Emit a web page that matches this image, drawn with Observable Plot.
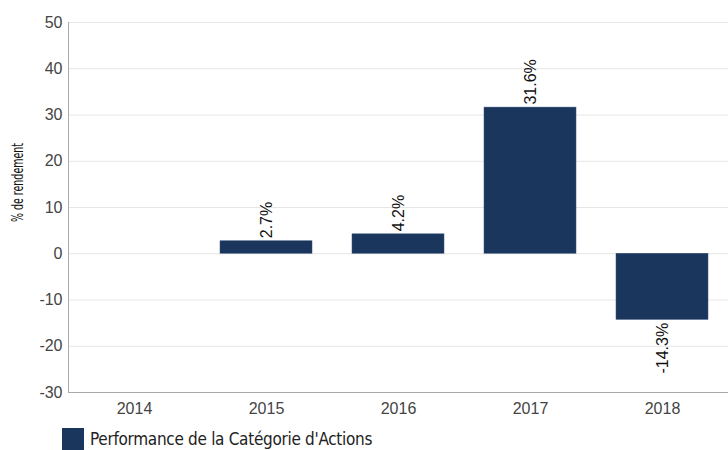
<!DOCTYPE html>
<html>
<head>
<meta charset="utf-8">
<script src="https://cdn.jsdelivr.net/npm/d3@7"></script>
<script src="https://cdn.jsdelivr.net/npm/@observablehq/plot@0.6"></script>
<style>
  body { margin: 0; background: #fff; font-family: "Liberation Sans", Arial, sans-serif; }
  #legend { display: flex; align-items: center; margin: 4px 0 0 62px; font-family: "DejaVu Sans Condensed", "DejaVu Sans", sans-serif; font-stretch: condensed; font-size: 17px; letter-spacing: -0.3px; color: #222; }
  #legend .sw { width: 22px; height: 22px; background: #1b365d; margin-right: 6px; }
</style>
</head>
<body>
<div id="chart"></div>
<div id="legend"><span class="sw"></span><span id="legend-label"></span></div>
<script>
const years = ["2014", "2015", "2016", "2017", "2018"];
const values = [null, 2.7, 4.2, 31.6, -14.3];
const yTicks = [-30, -20, -10, 0, 10, 20, 30, 40, 50];
const seriesName = "Performance de la Catégorie d'Actions";
const yLabel = "% de rendement";
const barColor = "#1b365d";

const data = years.map((year, i) => ({year, value: values[i]})).filter(d => d.value != null);
const pos = data.filter(d => d.value >= 0);
const neg = data.filter(d => d.value < 0);
const fmt = d => d.value.toFixed(1) + "%";

const chart = Plot.plot({
  width: 728,
  height: 424,
  marginLeft: 68,
  marginRight: 0,
  marginTop: 22,
  marginBottom: 32,
  style: {fontFamily: "'Liberation Sans', Arial, sans-serif", fontSize: "16px", color: "#333"},
  x: {domain: years, paddingInner: 0.3, paddingOuter: 0.15, label: null},
  y: {domain: [-30, 50], label: null},
  marks: [
    Plot.gridY(yTicks, {stroke: "#e6e6e6", strokeOpacity: 1}),
    Plot.barY(data, {x: "year", y: "value", fill: barColor, stroke: "#3a5278", strokeWidth: 0.5}),
    Plot.ruleY([-30], {stroke: "#aaa"}),
    Plot.frame({anchor: "left", stroke: "#aaa"}),
    Plot.axisY(yTicks, {tickSize: 0, tickPadding: 6, fontSize: 16, fill: "#444", label: null, tickFormat: d => String(d)}),
    Plot.axisX({tickSize: 0, tickPadding: 10, fontSize: 16, fill: "#444", label: null}),
    Plot.text(pos, {x: "year", y: "value", text: fmt, rotate: -90, textAnchor: "start", lineAnchor: "middle", dy: -3, fontSize: 16, fill: "#111"}),
    Plot.text(neg, {x: "year", y: "value", text: fmt, rotate: -90, textAnchor: "end", lineAnchor: "middle", dy: 3, fontSize: 16, fill: "#111"}),
    Plot.text([yLabel], {frameAnchor: "left", text: d => d, rotate: -90, textAnchor: "middle", dx: -50, dy: -25, fontFamily: "'DejaVu Sans Condensed', 'DejaVu Sans', sans-serif", fontStretch: "condensed", fontSize: 15, fill: "#111", className: "ylab"})
  ]
});
d3.select(chart).selectAll(".ylab text").attr("textLength", 79).attr("lengthAdjust", "spacingAndGlyphs");
document.getElementById("chart").appendChild(chart);
document.getElementById("legend-label").textContent = seriesName;
</script>
</body>
</html>
